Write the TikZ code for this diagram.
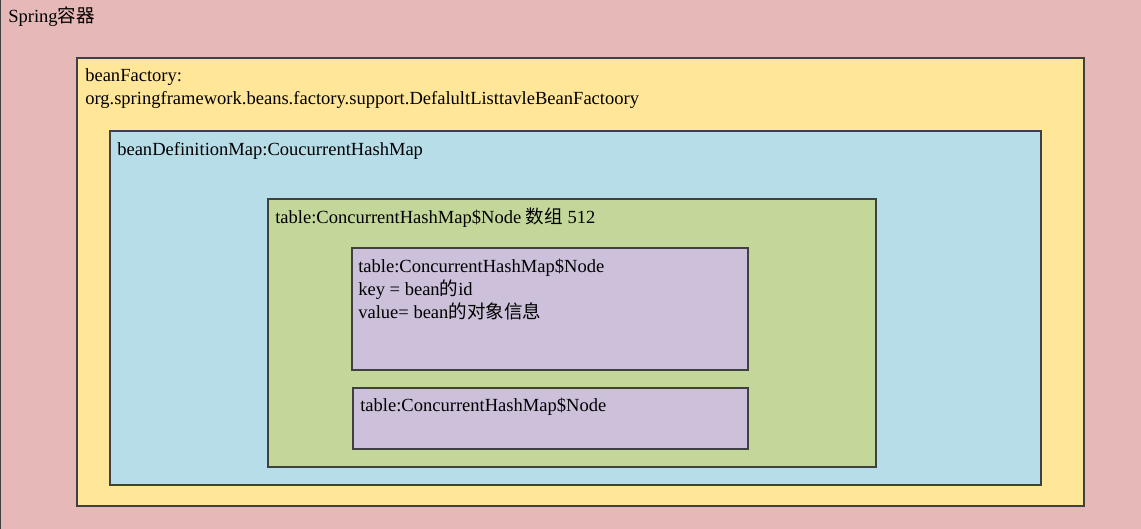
\documentclass[tikz,border=0pt]{standalone}
\usepackage{fontspec}
\setmainfont{Liberation Serif}
\newfontfamily\cjk{Noto Sans CJK SC}
\usepackage{tikz}

\definecolor{springpink}{HTML}{E6B8B7}
\definecolor{factoryyellow}{HTML}{FFE699}
\definecolor{mapblue}{HTML}{B7DDE8}
\definecolor{tablegreen}{HTML}{C4D79B}
\definecolor{nodepurple}{HTML}{CCC0DA}

\begin{document}
\begin{tikzpicture}
  [x=0.75pt, y=-0.75pt,
   box/.style={draw=black!75, line width=0.9pt},
   tnode/.style={anchor=base west, inner sep=0, font=\fontsize{13.9}{17}\selectfont}]
  \useasboundingbox (0, 0) rectangle (1141, 528);
  \draw[box, fill=springpink] (0.5, -2) rectangle (1143, 530);
  \draw[box, fill=factoryyellow] (77, 58) rectangle (1084, 506);
  \draw[box, fill=mapblue] (110, 131) rectangle (1041, 485);
  \draw[box, fill=tablegreen] (268, 199) rectangle (876, 467);
  \draw[box, fill=nodepurple] (352, 248) rectangle (748, 370);
  \draw[box, fill=nodepurple] (353, 388) rectangle (748, 449);

  \node[tnode] (spring) at (8, 23) {Spring{\cjk 容器}};
  \node[tnode] (factory) at (85, 81) {beanFactory:};
  \node[tnode] (factoryclass) at (85, 104) {org.springframework.beans.factory.support.DefalultListtavleBeanFactoory};
  \node[tnode] (defmap) at (117, 155) {beanDefinitionMap:CoucurrentHashMap};
  \node[tnode] (table) at (275, 223) {table:ConcurrentHashMap\$Node {\cjk 数组} 512};
  \node[tnode] (node1) at (358, 272) {table:ConcurrentHashMap\$Node};
  \node[tnode] (key) at (358, 295) {key = bean{\cjk 的}id};
  \node[tnode] (value) at (358, 318) {value= bean{\cjk 的对象信息}};
  \node[tnode] (node2) at (360, 411) {table:ConcurrentHashMap\$Node};
\end{tikzpicture}
\end{document}
